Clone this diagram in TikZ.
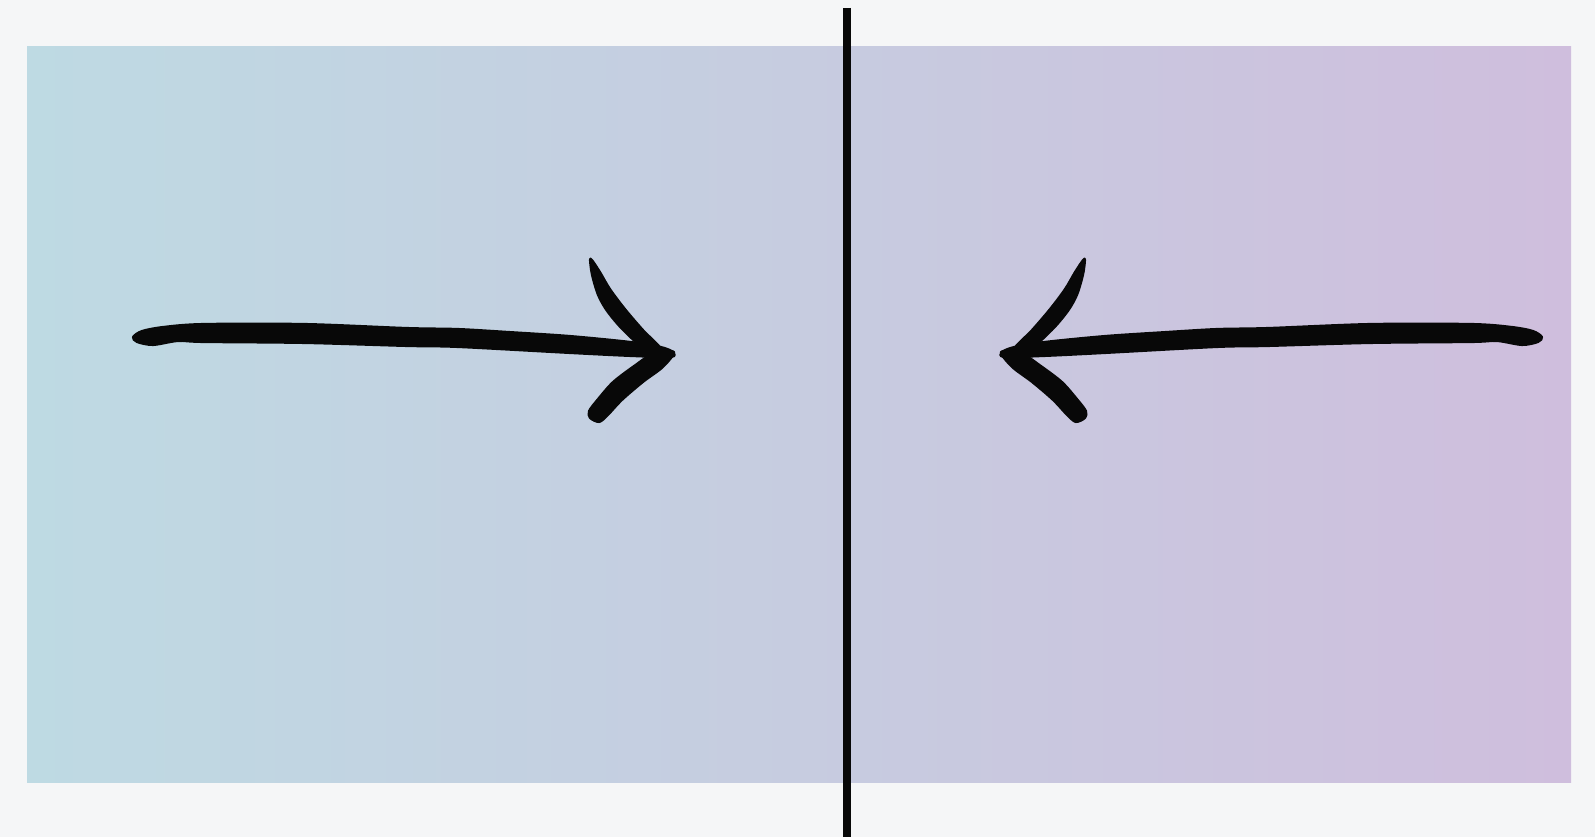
\documentclass[tikz,border=0pt]{standalone}
\usepackage{tikz}
\usetikzlibrary{calc}
\definecolor{pagebg}{RGB}{245,246,247}
\definecolor{leftblue}{RGB}{190,218,227}
\definecolor{rightlilac}{RGB}{207,190,221}
\definecolor{ink}{RGB}{8,8,8}
\tikzset{
  brush/.style={fill=ink, draw=ink, line width=1.2pt, line join=round},
  divider/.style={draw=ink, line width=0.16cm},
  brusharrow/.pic={
    % shaft
    \path[brush] plot[smooth cycle, tension=0.5] coordinates {
      (133,337) (142,331) (163,327) (203,324) (305,324) (407,328) (458,329)
      (509,332) (570,336) (631,342) (661,347) (673,352)
      (671,357) (631,356) (570,353) (458,347) (407,346) (305,343) (203,342)
      (178,341) (153,345) (137,342)};
    % upper barb
    \path[brush] plot[smooth cycle, tension=0.5] coordinates {
      (590,260) (592,275) (598,295) (607,311) (623,330) (648,352)
      (661,349) (643,330) (625,309) (610,289) (600,272) (592,260)};
    % lower barb
    \path[brush] plot[smooth cycle, tension=0.5] coordinates {
      (674,352) (663,367) (643,382) (622,400) (607,416) (599,422)
      (590,418) (589,411) (598,399) (613,382) (634,366) (654,353)};
  }
}

\begin{document}
\begin{tikzpicture}[x=0.02cm, y=-0.02cm]
  \useasboundingbox[fill=pagebg] (0,0) rectangle (1595,837);

  % gradient panel
  \shade[left color=leftblue, right color=rightlilac] (27,47) rectangle (1571,782);

  % two arrows pointing at the middle
  \pic (leftarrow) at (0,0) {brusharrow};
  \begin{scope}[shift={(1675,0)}, xscale=-1]
    \pic[transform shape] (rightarrow) at (0,0) {brusharrow};
  \end{scope}

  % middle line
  \coordinate (divtop) at (847,8);
  \coordinate (divbot) at (847,837);
  \draw[divider] (divtop) -- (divbot);
\end{tikzpicture}
\end{document}
